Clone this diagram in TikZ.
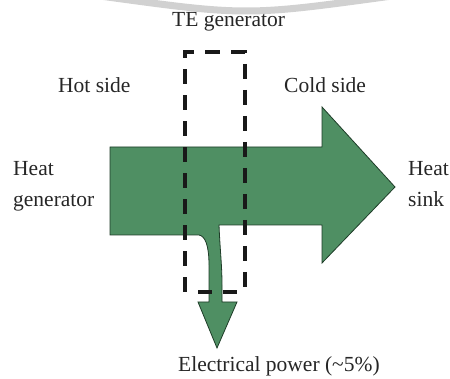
\documentclass[tikz,border=0pt]{standalone}
\usepackage{fontspec}
\setmainfont{Liberation Serif}
\definecolor{flow}{RGB}{79,143,99}
\definecolor{flowedge}{RGB}{30,60,40}
\begin{document}
\begin{tikzpicture}[x=1pt,y=-1pt,
  lbl/.style={anchor=base west, inner sep=0pt, font=\fontsize{21.5}{31}\selectfont, text=black!85},
  flowshape/.style={fill=flow, draw=flowedge, line width=0.8pt, line join=miter},
  tebox/.style={line width=3.4pt, dash pattern=on 15pt off 11pt, draw=black!90}]
\useasboundingbox (0,0) rectangle (450,379);
\begin{scope}
  \clip (0,0) rectangle (450,379);
  \draw[black!18, line width=7pt] (100,-4) .. controls (246,16) .. (392,-4);
\end{scope}
% heat flow arrow with branch
\draw[flowshape] (110,147) -- (322,147) -- (322,107) -- (395,187) -- (322,263) -- (322,225)
  -- (219,225) .. controls (220,250) and (222,265) .. (222,285) -- (222,302)
  -- (237,302) -- (217,348) -- (198,302) -- (209,302) -- (209,265)
  .. controls (209,245) and (205,236) .. (199,235) -- (110,235) -- cycle;
% TE generator dashed box
\draw[tebox] (185,292) -- (185,52) -- (245,52) -- (245,288);
\draw[line width=3.2pt, draw=black!90, dash pattern=on 14pt off 11pt on 14pt off 50pt, dash phase=76pt] (185,292) -- (245,292);
% labels
\node[lbl] (te) at (172,27) {TE generator};
\node[lbl] (hot) at (58,93) {Hot side};
\node[lbl] (cold) at (284,93) {Cold side};
\node[lbl, align=left] (hgen) at (13,207) {Heat\\generator};
\node[lbl, align=left] (hsink) at (408,207) {Heat\\sink};
\node[lbl] (elec) at (178,372) {Electrical power (\textasciitilde 5\%)};
\end{tikzpicture}
\end{document}
